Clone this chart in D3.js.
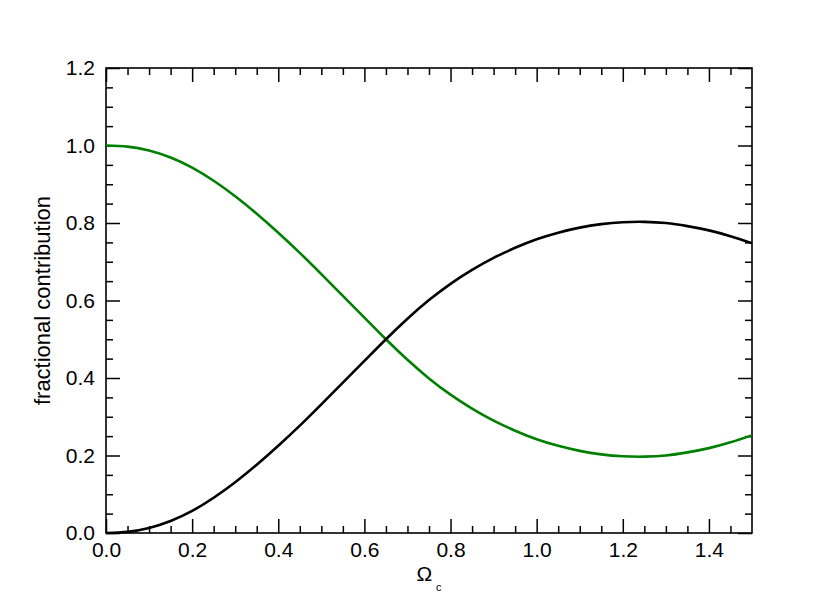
<!DOCTYPE html>
<html>
<head>
<meta charset="utf-8">
<script src="https://cdn.jsdelivr.net/npm/d3@7"></script>
<style>
  body { margin: 0; background: #fff; }
  svg { font-family: "Liberation Sans", Arial, Helvetica, sans-serif; }
</style>
</head>
<body>
<div id="chart"></div>
<script>
// omega_c samples, step 0.05
const omegaC = [0, 0.05, 0.1, 0.15, 0.2, 0.25, 0.3, 0.35, 0.4, 0.45, 0.5, 0.55, 0.6, 0.65, 0.7,
  0.75, 0.8, 0.85, 0.9, 0.95, 1.0, 1.05, 1.1, 1.15, 1.2, 1.25, 1.3, 1.35, 1.4, 1.45, 1.5];

// black curve
const blackVals = [0, 0.003, 0.013, 0.031, 0.057, 0.091, 0.131, 0.176, 0.225, 0.277, 0.332, 0.388,
  0.444, 0.5, 0.553, 0.601, 0.643, 0.679, 0.71, 0.736, 0.758, 0.775, 0.788, 0.797, 0.802, 0.803,
  0.8, 0.792, 0.781, 0.766, 0.748];

// green curve
const greenVals = [1, 0.997, 0.987, 0.969, 0.943, 0.909, 0.869, 0.824, 0.775, 0.723, 0.668, 0.612,
  0.556, 0.5, 0.447, 0.399, 0.357, 0.321, 0.29, 0.264, 0.242, 0.225, 0.212, 0.203, 0.198, 0.197,
  0.2, 0.208, 0.219, 0.234, 0.252];

const xTicks = [0, 0.2, 0.4, 0.6, 0.8, 1.0, 1.2, 1.4];
const yTicks = [0, 0.2, 0.4, 0.6, 0.8, 1.0, 1.2];

const width = 817;
const height = 613;
const margin = { top: 68, right: 65, bottom: 80, left: 106 };
const innerW = width - margin.left - margin.right;
const innerH = height - margin.top - margin.bottom;

const svg = d3.select('#chart')
  .append('svg')
  .attr('width', width)
  .attr('height', height);

const x = d3.scaleLinear().domain([0, 1.5]).range([margin.left, margin.left + innerW]);
const y = d3.scaleLinear().domain([0, 1.2]).range([margin.top + innerH, margin.top]);

// minor ticks every 0.05
const xMinor = d3.range(0.05, 1.5, 0.05).filter(v => Math.abs(v / 0.2 - Math.round(v / 0.2)) > 1e-6);
const yMinor = d3.range(0.05, 1.2, 0.05).filter(v => Math.abs(v / 0.2 - Math.round(v / 0.2)) > 1e-6);

const fmt = d3.format('.1f');
const bigTick = 14, smallTick = 7;

function styleAxis(g) {
  g.select('.domain').remove();
  g.selectAll('line').attr('stroke', '#000').attr('stroke-width', 1.5);
  g.selectAll('text').attr('fill', '#000').attr('font-size', '21px');
}

// bottom axis (major + labels)
svg.append('g')
  .attr('transform', `translate(0,${y(0)})`)
  .call(d3.axisBottom(x).tickValues(xTicks).tickFormat(fmt).tickSizeInner(-bigTick).tickSizeOuter(0).tickPadding(9))
  .call(styleAxis)
  .call(g => g.selectAll('text').attr('dy', '0.71em').attr('y', 9));
svg.append('g')
  .attr('transform', `translate(0,${y(0)})`)
  .call(d3.axisBottom(x).tickValues(xMinor).tickFormat('').tickSizeInner(-smallTick).tickSizeOuter(0))
  .call(styleAxis);

// top axis
svg.append('g')
  .attr('transform', `translate(0,${y(1.2)})`)
  .call(d3.axisTop(x).tickValues(xTicks).tickFormat('').tickSizeInner(-bigTick).tickSizeOuter(0))
  .call(styleAxis);
svg.append('g')
  .attr('transform', `translate(0,${y(1.2)})`)
  .call(d3.axisTop(x).tickValues(xMinor).tickFormat('').tickSizeInner(-smallTick).tickSizeOuter(0))
  .call(styleAxis);

// left axis
svg.append('g')
  .attr('transform', `translate(${x(0)},0)`)
  .call(d3.axisLeft(y).tickValues(yTicks).tickFormat(fmt).tickSizeInner(-bigTick).tickSizeOuter(0).tickPadding(11))
  .call(styleAxis)
  .call(g => g.selectAll('text').attr('x', -11));
svg.append('g')
  .attr('transform', `translate(${x(0)},0)`)
  .call(d3.axisLeft(y).tickValues(yMinor).tickFormat('').tickSizeInner(-smallTick).tickSizeOuter(0))
  .call(styleAxis);

// right axis
svg.append('g')
  .attr('transform', `translate(${x(1.5)},0)`)
  .call(d3.axisRight(y).tickValues(yTicks).tickFormat('').tickSizeInner(-bigTick).tickSizeOuter(0))
  .call(styleAxis);
svg.append('g')
  .attr('transform', `translate(${x(1.5)},0)`)
  .call(d3.axisRight(y).tickValues(yMinor).tickFormat('').tickSizeInner(-smallTick).tickSizeOuter(0))
  .call(styleAxis);

// frame
svg.append('rect')
  .attr('x', x(0))
  .attr('y', y(1.2))
  .attr('width', x(1.5) - x(0))
  .attr('height', y(0) - y(1.2))
  .attr('fill', 'none')
  .attr('stroke', '#000')
  .attr('stroke-width', 1.6);

const line = d3.line()
  .x((d, i) => x(omegaC[i]))
  .y(d => y(d))
  .curve(d3.curveNatural);

svg.append('path')
  .datum(greenVals)
  .attr('fill', 'none')
  .attr('stroke', '#008000')
  .attr('stroke-width', 2.6)
  .attr('d', line);

svg.append('path')
  .datum(blackVals)
  .attr('fill', 'none')
  .attr('stroke', '#000')
  .attr('stroke-width', 2.6)
  .attr('d', line);

// axis titles
const xt = svg.append('text')
  .attr('x', (x(0) + x(1.5)) / 2)
  .attr('y', 581)
  .attr('text-anchor', 'middle')
  .attr('font-size', '21px')
  .attr('fill', '#000')
  .text('Ω');
xt.append('tspan')
  .attr('dx', 4)
  .attr('dy', 10)
  .attr('font-size', '11px')
  .text('c');

svg.append('text')
  .attr('transform', `translate(50,${(y(0) + y(1.2)) / 2}) rotate(-90)`)
  .attr('text-anchor', 'middle')
  .attr('font-size', '22px')
  .attr('fill', '#000')
  .text('fractional contribution');
</script>
</body>
</html>
